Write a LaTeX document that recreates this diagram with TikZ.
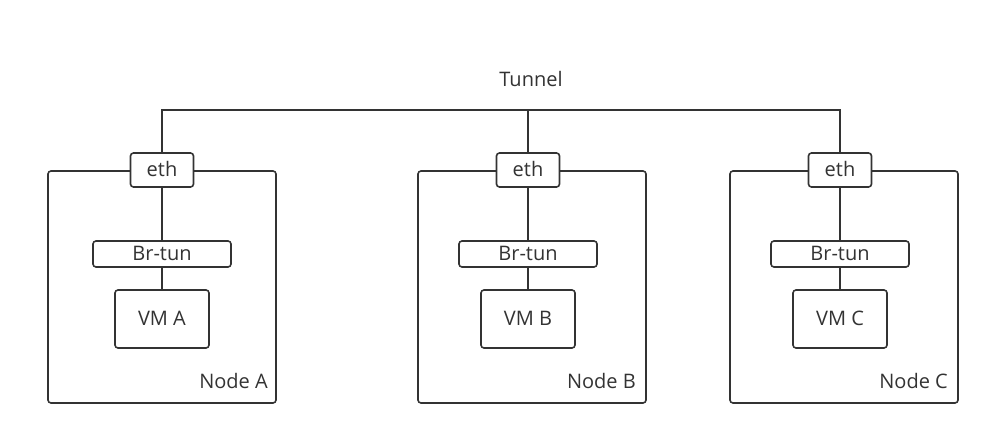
\documentclass[tikz,border=0pt]{standalone}
\usepackage{fontspec}
\setmainfont{Open Sans}
\definecolor{linegray}{HTML}{333333}
\begin{document}
\begin{tikzpicture}[x=1pt,y=-1pt]

\tikzset{host/.style = {draw=linegray,line width=1.6pt,rounded corners=3pt,minimum width=228pt,minimum height=232pt}}
\tikzset{box/.style = {draw=linegray,fill=white,line width=1.6pt,rounded corners=3pt,inner sep=0pt,font=\fontsize{20pt}{23pt}\selectfont,text=linegray,text height=14pt,text depth=0pt}}
\tikzset{eth/.style = {box,minimum width=63pt,minimum height=34pt}}
\tikzset{bridge/.style = {box,minimum width=138pt,minimum height=26pt}}
\tikzset{vm/.style = {box,minimum width=94pt,minimum height=58pt}}
\tikzset{title/.style = {inner sep=0pt,font=\fontsize{20pt}{23pt}\selectfont,text=linegray}}
\tikzset{link/.style = {draw=linegray,line width=1.6pt}}

\useasboundingbox (0,0) rectangle (994,446);

%hosts
\node[host] (hostA) at (162,287) {};
\node[host] (hostB) at (532,287) {};
\node[host] (hostC) at (844,287) {};
\node[title, anchor=base east] (labA) at (268,389) {Node A};
\node[title, anchor=base east] (labB) at (636,389) {Node B};
\node[title, anchor=base east] (labC) at (948,389) {Node C};
%interfaces
\node[eth] (ethA) at (162,170) {eth};
\node[eth] (ethB) at (528,170) {eth};
\node[eth] (ethC) at (840,170) {eth};
\node[bridge] (brA) at (162,254) {Br-tun};
\node[bridge] (brB) at (528,254) {Br-tun};
\node[bridge] (brC) at (840,254) {Br-tun};
\node[vm] (vmA) at (162,319) {VM A};
\node[vm] (vmB) at (528,319) {VM B};
\node[vm] (vmC) at (840,319) {VM C};
%tunnel
\coordinate (tun) at (528,110);
\node[title, anchor=base] (tunlab) at (531,87) {Tunnel};
\draw[link] (ethA.north) |- (tun) -| (ethC.north);
\draw[link] (ethB.north) -- (tun);
%links
\draw[link] (ethA) -- (brA);
\draw[link] (ethB) -- (brB);
\draw[link] (ethC) -- (brC);
\draw[link] (brA) -- (vmA);
\draw[link] (brB) -- (vmB);
\draw[link] (brC) -- (vmC);

\end{tikzpicture}
\end{document}
